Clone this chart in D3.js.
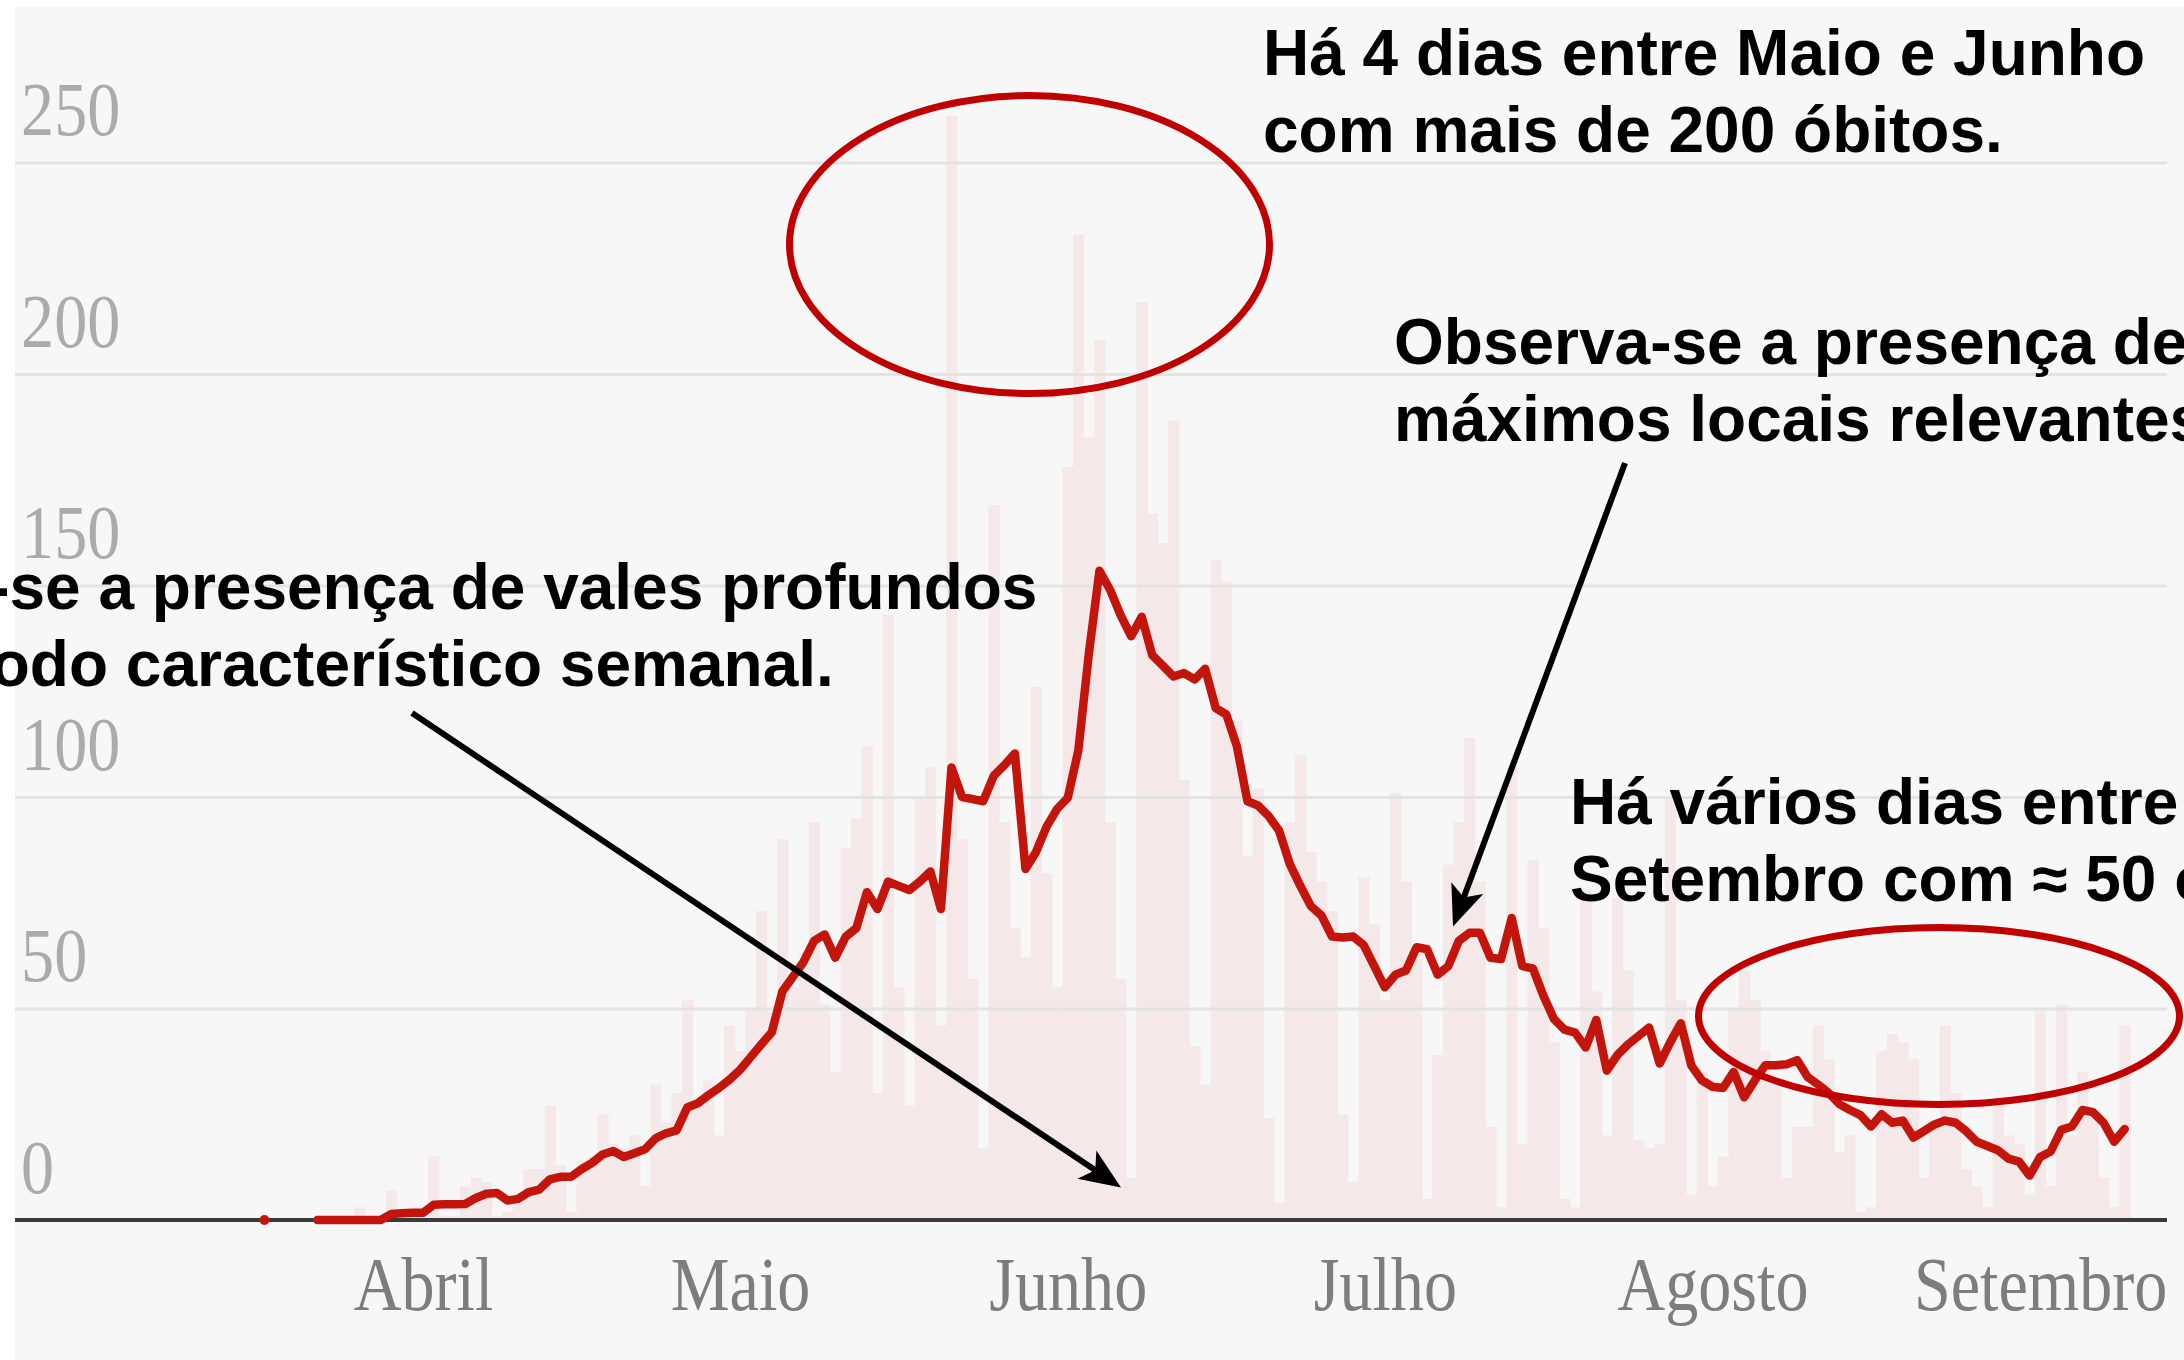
<!DOCTYPE html>
<html><head><meta charset="utf-8">
<script src="https://cdn.jsdelivr.net/npm/d3@7"></script>
<style>html,body{margin:0;padding:0;background:#fff;overflow:hidden}</style>
</head><body>
<svg id="chart" width="2184" height="1360"></svg>
<script>
// ---------- DATA ----------
const startDate = "2020-03-17";
// daily deaths (bars), one value per day from 17 March
const dailyDeaths = [
  0,0,0,0,0,0,0,0,0,3,0,0,7,1,1,            // 17 Mar - 31 Mar
  0,15,1,1,8,10,9,1,2,4,12,12,27,13,2,14,15,25,18,17,20,8,32,23,30,52,28,33,20,46, // April
  40,50,73,49,90,55,60,94,51,35,88,95,112,30,143,55,27,100,107,46,261,90,57,17,169,94,69,62,126,82,55, // May
  178,233,185,208,94,57,10,217,167,160,189,104,41,32,156,151,118,86,102,24,4,94,110,87,80,73,25,9,81,70, // June
  52,101,80,63,5,39,84,94,114,80,22,3,107,18,85,69,42,5,3,78,54,20,76,59,19,17,18,100,52,6,35, // July
  8,15,50,59,52,40,32,10,22,22,46,38,16,20,2,3,40,44,42,38,10,22,46,30,12,8,3,28,20,18,6, // August
  50,8,51,20,35,25,10,3,46                     // September
];
// 7-day moving average (line), same days; null = no value
const avg7 = [
  0,null,null,null,null,0,0,0,0,0,0,0,1.4,1.6,1.7,
  1.7,3.6,3.7,3.7,3.8,5.2,6.2,6.4,4.6,5,6.6,7.2,9.6,10.2,10.2,12,13.5,15.5,16.3,14.9,15.8,16.7,19.3,20.5,21.2,26.6,27.6,29.5,31.2,33.2,
  35.5,38.5,41.5,44.4,54,57.5,61,66,67.5,62,67,69,77.5,73.5,80,79,78,80,82.4,73.5,107,100,99.5,99,105,107.5,110.3,83,87,93,97.2,
  99.8,111,134,153.5,149,143,138,142.6,133.5,131,128.5,129.3,127.8,130.3,121,119.5,112,99,98,95.5,92,84.2,79,74.2,72,67,66.8,67,65,60,
  55,58,59,64.5,64,58,60,66,67.9,67.9,62,61.7,71.4,60,59.5,53,47.5,45,44.3,40.8,47.3,35.3,39,41.5,43.5,45.5,37,42,46.5,36.5,33,
  31.5,31.2,35,29,33,36.6,36.6,36.8,37.8,33.8,32,30,27.4,26,24.8,22.1,25,23,23.5,19.5,21,22.6,23.5,23,21,18.5,17.5,16.5,14.5,13.8,
  10.5,14.9,16.2,21.3,22.1,26,25.5,23,18.5,21.5
];
const monthTickDates = ["2020-04-01","2020-05-01","2020-06-01","2020-07-01","2020-08-01","2020-09-01"];
const monthLabels = ["Abril","Maio","Junho","Julho","Agosto","Setembro"];
const yTickValues = [0,50,100,150,200,250];

const noteTopLines = ["Há 4 dias entre Maio e Junho","com mais de 200 óbitos."];
const noteMaxLines = ["Observa-se a presença de","máximos locais relevantes."];
const noteValesLines = ["Observa-se a presença de vales profundos","com período característico semanal."];
const noteAugLines = ["Há vários dias entre Agosto e","Setembro com ≈ 50 óbitos."];

// ---------- LAYOUT ----------
const W = 2184, H = 1360;
const svg = d3.select("#chart");
const parse = d3.utcParse("%Y-%m-%d");
const t0 = parse(startDate);
const dates = dailyDeaths.map((_, i) => d3.utcDay.offset(t0, i));
const dayMs = 864e5;
const apr1 = parse("2020-04-01");
const x = d3.scaleUtc()
  .domain([new Date(+apr1 - 38.6 * dayMs), new Date(+apr1 + 165 * dayMs)])
  .range([15, 2167]);
const y = d3.scaleLinear().domain([0, 250]).range([1220, 162.5]);
const barW = x(d3.utcDay.offset(apr1, 1)) - x(apr1);

// background panel
svg.append("rect").attr("x", 0).attr("y", 0).attr("width", W).attr("height", H).attr("fill", "#ffffff");
svg.append("rect").attr("x", 15).attr("y", 7).attr("width", W - 15).attr("height", H - 7).attr("fill", "#f7f7f7");

// bars
svg.append("g").selectAll("rect").data(dailyDeaths).join("rect")
  .attr("x", (d, i) => x(dates[i]) - barW / 2)
  .attr("width", barW + 0.6)
  .attr("y", d => y(d))
  .attr("height", d => y(0) - y(d))
  .attr("fill", "#f4e8e8");

// y axis with grid lines
const yAxis = d3.axisRight(y).tickValues(yTickValues).tickSize(2152).tickFormat(d3.format("d"));
const gy = svg.append("g").attr("transform", "translate(15,0)").call(yAxis);
gy.select(".domain").remove();
gy.selectAll(".tick line").attr("stroke", "#e3e3e3").attr("stroke-width", 3)
  .attr("opacity", d => d === 0 ? 0 : 1);
gy.selectAll(".tick text")
  .attr("x", 7).attr("dy", 0).attr("y", -28)
  .attr("text-anchor", "start")
  .attr("transform", "scale(0.87,1)")
  .attr("fill", "#ababab")
  .style("font-family", "'Liberation Serif', 'Times New Roman', serif")
  .style("font-size", "76px");

// baseline
svg.append("line").attr("x1", 15).attr("x2", 2167).attr("y1", y(0)).attr("y2", y(0))
  .attr("stroke", "#3a3a3a").attr("stroke-width", 4);

// x axis
const xAxis = d3.axisBottom(x).tickValues(monthTickDates.map(parse))
  .tickFormat((d, i) => monthLabels[i]).tickSize(0);
const gx = svg.append("g").attr("transform", `translate(0,${y(0)})`).call(xAxis);
gx.select(".domain").remove();
gx.selectAll(".tick text")
  .attr("y", 90).attr("dy", 0)
  .attr("text-anchor", "middle")
  .attr("transform", "scale(0.87,1)")
  .attr("fill", "#7d7d7d")
  .style("font-family", "'Liberation Serif', 'Times New Roman', serif")
  .style("font-size", "76px");

// 7-day average line
const pts = avg7.map((v, i) => ({ date: dates[i], v }));
const line = d3.line().defined(d => d.v !== null).x(d => x(d.date)).y(d => y(d.v));
svg.append("path").datum(pts).attr("d", line)
  .attr("fill", "none").attr("stroke", "#c4150d").attr("stroke-width", 8.5)
  .attr("stroke-linejoin", "round").attr("stroke-linecap", "round");
// isolated points
svg.append("g").selectAll("circle")
  .data(pts.filter((d, i) => d.v !== null && (i === 0 || avg7[i - 1] === null) && (i === avg7.length - 1 || avg7[i + 1] === null)))
  .join("circle").attr("cx", d => x(d.date)).attr("cy", d => y(d.v)).attr("r", 5).attr("fill", "#c4150d");

// ---------- ANNOTATIONS ----------
const ellipses = [
  { cx: 1029.5, cy: 244.5, rx: 240, ry: 149 },
  { cx: 1939, cy: 1016, rx: 240.5, ry: 88.5 }
];
svg.append("g").selectAll("ellipse").data(ellipses).join("ellipse")
  .attr("cx", d => d.cx).attr("cy", d => d.cy).attr("rx", d => d.rx).attr("ry", d => d.ry)
  .attr("fill", "none").attr("stroke", "#c00000").attr("stroke-width", 7);

const defs = svg.append("defs");
defs.append("marker").attr("id", "ah").attr("markerUnits", "userSpaceOnUse")
  .attr("viewBox", "-20 -20 50 40").attr("markerWidth", 50).attr("markerHeight", 40)
  .attr("refX", 0).attr("refY", 0).attr("orient", "auto")
  .append("path").attr("d", "M25,0 L-16,-17 L-6,0 L-16,17 Z").attr("fill", "#000");

const arrows = [
  { x1: 412, y1: 713, x2: 1121, y2: 1187.5 },
  { x1: 1625, y1: 463, x2: 1453, y2: 926.5 }
];
svg.append("g").selectAll("line").data(arrows).join("line")
  .attr("x1", d => d.x1).attr("y1", d => d.y1)
  .attr("x2", d => { const L = Math.hypot(d.x2 - d.x1, d.y2 - d.y1); return d.x2 - 25 * (d.x2 - d.x1) / L; })
  .attr("y2", d => { const L = Math.hypot(d.x2 - d.x1, d.y2 - d.y1); return d.y2 - 25 * (d.y2 - d.y1) / L; })
  .attr("stroke", "#000").attr("stroke-width", 6).attr("marker-end", "url(#ah)");

const notes = [
  { xs: [1263, 1263], y: 75, lines: noteTopLines },
  { xs: [1394, 1394], y: 364, lines: noteMaxLines },
  { xs: [-268, -276], y: 609, lines: noteValesLines },
  { xs: [1570, 1570], y: 824, lines: noteAugLines }
];
const gNotes = svg.append("g")
  .style("font-family", "'Liberation Sans', Arial, sans-serif")
  .style("font-weight", "bold").style("font-size", "64px").attr("fill", "#000");
notes.forEach(n => {
  gNotes.append("g").selectAll("text").data(n.lines).join("text")
    .attr("x", (d, i) => n.xs[i]).attr("y", (d, i) => n.y + i * 77).text(d => d);
});
</script>
</body></html>
